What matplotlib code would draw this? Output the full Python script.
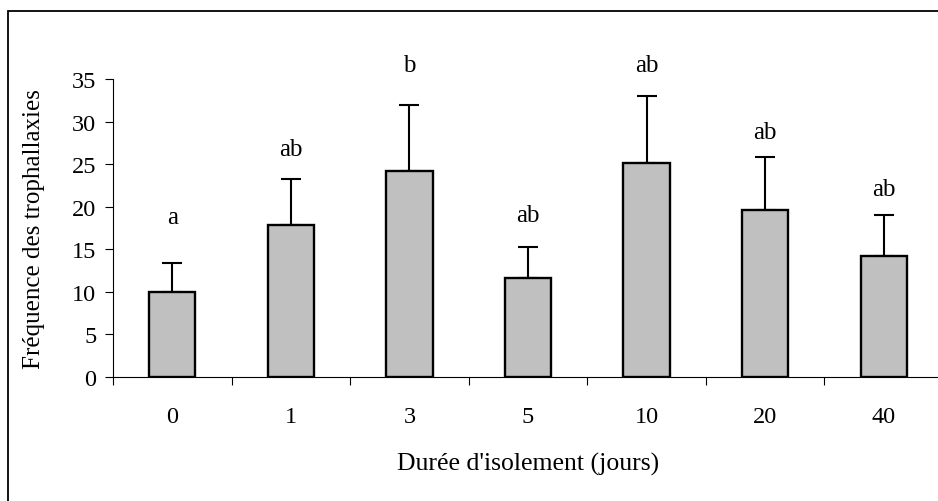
import matplotlib
matplotlib.use("Agg")
import matplotlib.pyplot as plt
from matplotlib.patches import Rectangle
import numpy as np

plt.rcParams['font.family'] = ['Liberation Serif', 'DejaVu Serif']

# Isolation duration groups and trophallaxis frequency
durations = ["0", "1", "3", "5", "10", "20", "40"]
means = [10.0, 17.85, 24.15, 11.6, 25.1, 19.65, 14.2]
errors = [3.35, 5.41, 7.83, 3.7, 7.95, 6.19, 4.87]
letters = ["a", "ab", "b", "ab", "ab", "ab", "ab"]
letter_y = [18.8, 26.8, 36.6, 19.0, 36.6, 28.8, 22.1]

fig = plt.figure(figsize=(9.38, 5.02), dpi=100)
W, H = 938, 502

# frame around the whole chart area
fig.patches.append(Rectangle((8 / W, -0.2), 1.2, 1.2 - 12 / H,
                             transform=fig.transFigure, fill=False,
                             edgecolor='black', linewidth=1.3))

ax = fig.add_axes([113 / W, (H - 378) / H, 830 / W, 298 / H])

x = np.arange(len(durations))
ax.bar(x, means, width=0.39, color='#c0c0c0', edgecolor='black',
       linewidth=1.7, zorder=3)
ax.errorbar(x, means, yerr=[np.zeros(len(errors)), errors], fmt='none',
            ecolor='black', elinewidth=1.5, capsize=7.5, capthick=1.5,
            zorder=2)

for xi, lab, ly in zip(x, letters, letter_y):
    ax.text(xi, ly, lab, ha='center', va='center', fontsize=18,
            clip_on=False)

ax.set_xlim(-0.5, len(durations) - 0.5)
ax.set_ylim(0, 35)
ax.set_yticks(np.arange(0, 36, 5))
ax.tick_params(axis='y', direction='out', length=6, width=0.8,
               labelsize=17.5, pad=6)

# category labels centred, ticks on the category boundaries
ax.set_xticks(x)
ax.set_xticklabels(durations, fontsize=17.5)
ax.tick_params(axis='x', which='major', length=0, pad=21)
ax.set_xticks(np.arange(-0.5, len(durations), 1.0), minor=True)
ax.tick_params(axis='x', which='minor', direction='out', length=6,
               width=0.8)

for side in ['top', 'right']:
    ax.spines[side].set_visible(False)
ax.spines['left'].set_linewidth(0.8)
ax.spines['bottom'].set_linewidth(0.8)

ax.set_ylabel("Fréquence des trophallaxies", fontsize=18, labelpad=19)
ax.set_xlabel("Durée d'isolement (jours)", fontsize=18.5, labelpad=18)

fig.savefig("out.png", dpi=100)
